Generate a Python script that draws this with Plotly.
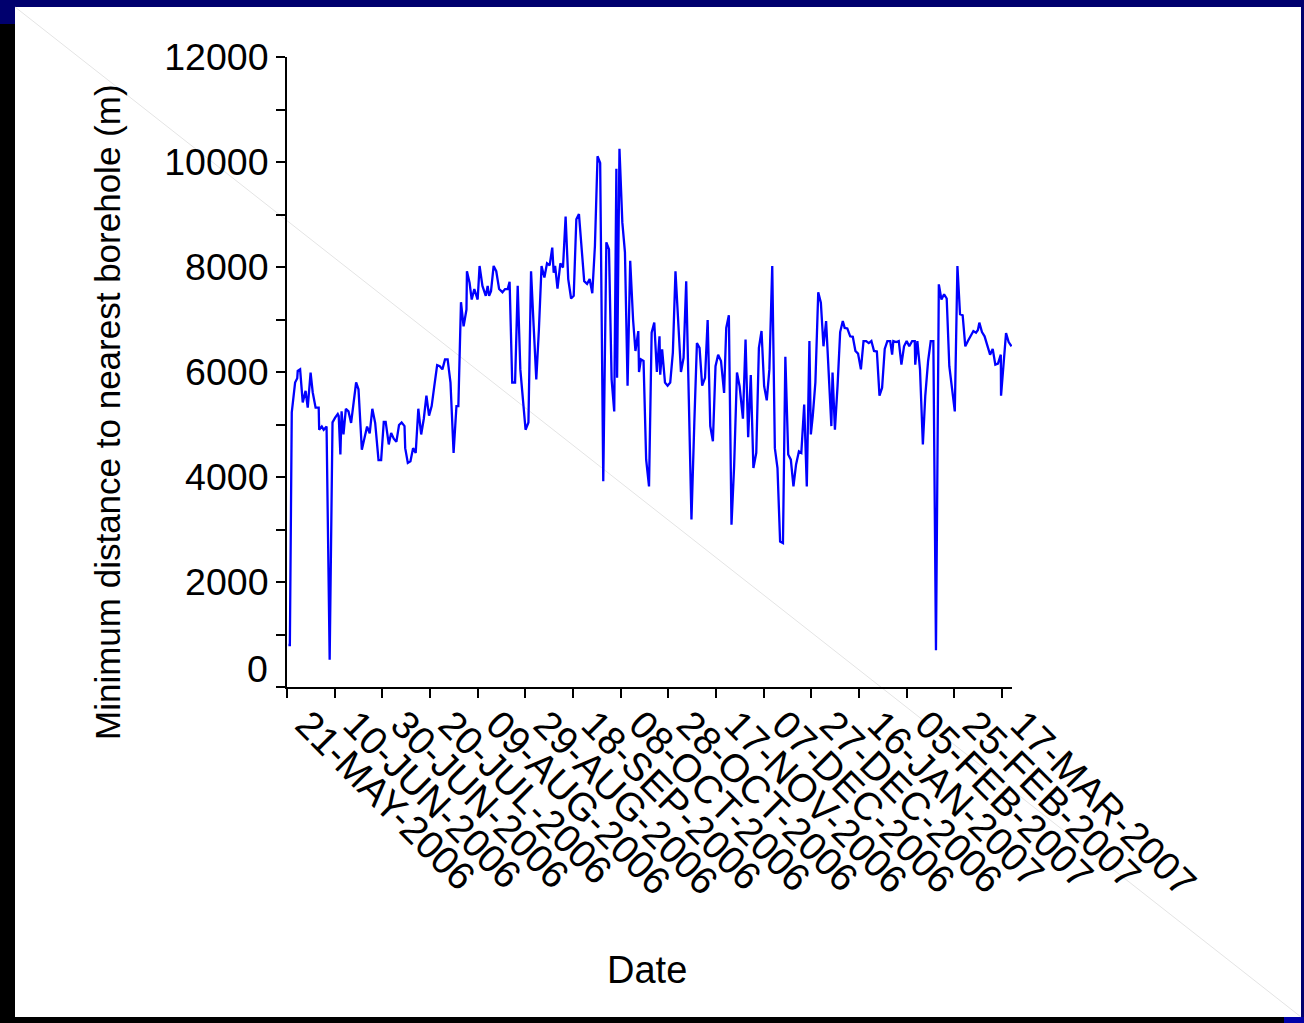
import pandas as pd
import plotly.graph_objects as go

# ---------------- data ----------------
start_date = "2006-05-21"

# days after 21-MAY-2006 for each observation
day_offset = [
    0.6, 1.2, 2.0, 3.4, 4.3, 4.5, 5.5, 6.6, 7.8, 8.7, 9.9, 10.8, 12.0, 13.3, 13.5, 14.6, 15.4, 16.6,
    17.9, 19.1, 20.2, 21.3, 21.7, 22.4, 22.9, 23.7, 24.7, 25.8, 26.9, 29.0, 30.0, 31.4, 33.6, 34.7,
    35.8, 37.0, 38.4, 39.5, 40.6, 41.4, 42.7, 43.7, 44.8, 45.9, 47.0, 48.1, 49.3, 49.6, 50.7, 51.8,
    52.9, 54.0, 55.1, 56.3, 57.4, 58.5, 59.6, 60.7, 61.8, 63.0, 64.1, 65.2, 66.3, 67.4, 68.6, 69.9,
    71.1, 71.9, 73.0, 74.1, 75.3, 75.5,
    76.6, 77.5, 78.6, 80.0, 80.8, 82.0, 83.4, 84.2, 84.8, 85.6, 86.7, 87.8, 89.0, 90.4, 91.5, 92.6,
    93.4, 94.5, 95.7, 96.8, 97.9, 99.0, 100.1, 101.3, 102.4, 103.5, 104.6, 105.7, 106.8, 108.0,
    109.1, 110.2, 111.3, 111.9, 112.5, 113.5, 114.7, 115.8, 116.9, 118.0, 119.2, 120.3, 121.4,
    122.5, 123.6, 124.7, 125.9, 127.0, 128.1, 129.2, 130.3, 131.4, 132.7, 134.0, 135.1, 136.2,
    137.3, 138.2, 138.5, 139.5, 140.7, 141.8, 142.9, 144.0, 145.2, 146.2, 147.4, 147.7, 148.5,
    149.6, 150.7, 151.9,
    153.0, 154.1, 155.2, 156.3, 156.6, 157.4, 158.6, 159.7, 160.8, 161.9, 163.0, 164.2, 165.3,
    166.4, 167.5, 168.6, 169.7, 170.9, 172.0, 173.1, 174.2, 175.4, 176.5, 177.6, 178.7, 179.8,
    180.9, 182.1, 183.4, 184.3, 185.4, 186.5, 187.6, 188.8, 189.9, 191.3, 192.4, 193.5, 194.6,
    195.7, 196.9, 198.0, 199.1, 200.2, 201.3, 202.4, 203.6, 204.7, 205.8, 206.9, 208.1, 209.1,
    210.3, 211.4, 212.5, 213.6, 214.8, 215.8, 217.0, 218.1, 219.2, 219.8, 220.6, 221.7, 222.9,
    224.0, 225.1, 226.2, 227.3, 228.4,
    228.9, 229.9, 231.0, 232.1, 233.2, 234.0, 235.1, 236.3, 237.4, 238.5, 239.6, 240.8, 241.9,
    243.0, 244.1, 245.2, 246.3, 247.5, 248.6, 249.7, 250.8, 251.9, 253.1, 253.9, 254.4, 255.6,
    256.7, 257.8, 258.9, 260.0, 261.1, 262.3, 263.4, 263.6, 264.5, 265.6, 266.8, 267.8, 269.0,
    270.1, 271.2, 272.3, 273.5, 274.6, 275.7, 276.8, 277.9, 279.0, 280.2, 281.3, 282.4, 283.5,
    284.6, 285.7, 286.9, 288.0, 289.1, 289.9, 290.5, 291.6, 292.7, 293.8, 295.0, 296.1, 297.2,
    298.3, 299.5, 299.6, 300.6, 301.7, 302.8, 304.0,
]

# minimum distance to nearest borehole (m)
min_distance_m = [
    800, 800, 5230, 5800, 5880, 6020, 6050, 5420, 5640, 5320, 5990, 5610, 5320, 5320, 4900, 4960, 4900, 4960,
    520, 5040, 5130, 5200, 5160, 4430, 5250, 4810, 5300, 5250, 5030, 5800, 5670, 4520, 4960, 4830,
    5300, 5030, 4320, 4320, 5050, 5050, 4620, 4840, 4730, 4670, 4990, 5040, 4970, 4550, 4270, 4300,
    4550, 4460, 5300, 4810, 5110, 5550, 5170, 5350, 5730, 6130, 6110, 6050, 6240, 6240, 5800, 4460,
    5350, 5350, 7330, 6870, 7190, 7920,
    7700, 7380, 7580, 7380, 8020, 7640, 7450, 7640, 7450, 7540, 8020, 7920, 7580, 7520, 7580, 7580,
    7720, 5800, 5800, 7640, 6050, 5410, 4900, 5040, 7920, 6870, 5860, 6810, 8020, 7800,
    8070, 8030, 8370, 7890, 8020, 7590, 8070, 7990, 8960, 7770, 7400, 7450, 8910,
    9010, 8280, 7730, 7680, 7770, 7500, 8400, 10110, 9980, 3920, 8470, 8340, 5860,
    5250, 9870, 5890, 10250, 8850, 8280, 5740, 8120, 7000, 6400, 6780, 6000, 6240,
    6210, 4330, 3820,
    6750, 6940, 6000, 6680, 5950, 6430, 5800, 5740, 5800, 6370, 7920, 7000, 6000,
    6270, 7730, 5480, 3190, 5030, 6550, 6460, 5740, 5890, 6990, 4970, 4680, 6110,
    6330, 6210, 5600, 6840, 7080, 3090, 4200, 5990, 5730, 5110, 6620, 4760, 5940,
    4170, 4460, 6460, 6780, 5730, 5460, 6050, 8020, 4550, 4170, 2770, 2740, 6290,
    4430, 4330, 3820, 4240, 4490, 4460, 5380, 3820, 6590, 4810, 5160, 5800, 7520,
    7320, 6490, 6970, 5990, 4970,
    5990, 4900, 5730, 6760, 6970, 6840, 6830, 6680, 6670, 6400, 6350, 6050, 6590,
    6590, 6550, 6590, 6400, 6390, 5550, 5700, 6440, 6590, 6590, 6330, 6590, 6570,
    6590, 6140, 6490, 6590, 6490, 6590, 6590, 6140, 6590, 6050, 4620, 5540, 6210,
    6590, 6590, 700, 7670, 7380, 7480, 7400, 6110, 5730, 5250, 8020, 7100, 7080,
    6490, 6590, 6680, 6780, 6750, 6800, 6940, 6760, 6680, 6530, 6330, 6440, 6140,
    6160, 6330, 5550, 6110, 6740, 6570, 6490,
]

x_tick_dates = [
    "2006-05-21", "2006-06-10", "2006-06-30", "2006-07-20", "2006-08-09", "2006-08-29",
    "2006-09-18", "2006-10-08", "2006-10-28", "2006-11-17", "2006-12-07", "2006-12-27",
    "2007-01-16", "2007-02-05", "2007-02-25", "2007-03-17",
]
x_tick_labels = [
    "21-MAY-2006", "10-JUN-2006", "30-JUN-2006", "20-JUL-2006", "09-AUG-2006", "29-AUG-2006",
    "18-SEP-2006", "08-OCT-2006", "28-OCT-2006", "17-NOV-2006", "07-DEC-2006", "27-DEC-2006",
    "16-JAN-2007", "05-FEB-2007", "25-FEB-2007", "17-MAR-2007",
]
y_tick_vals = [0, 2000, 4000, 6000, 8000, 10000, 12000]
y_tick_labels = ["0", "2000", "4000", "6000", "8000", "10000", "12000"]

x_title = "Date"
y_title = "Minimum distance to nearest borehole (m)"

# ---------------- figure ----------------
start = pd.Timestamp(start_date)
dates = start + pd.to_timedelta(day_offset, unit="D")

W, H = 1304, 1023
L, R, T, B = 287, 1012, 57, 687


def px_x(p):
    return (p - L) / (R - L)


def px_y(p):
    return (B - p) / (B - T)


FONT = "Liberation Sans, Arial, sans-serif"
NAVY = "#00006E"

fig = go.Figure()
fig.add_trace(go.Scatter(
    x=dates, y=min_distance_m, mode="lines",
    line=dict(color="#0000FF", width=2.3),
    showlegend=False, hoverinfo="skip",
))

shapes = []


def rect(x0, y0, x1, y1, color, layer="below"):
    shapes.append(dict(type="rect", xref="paper", yref="paper",
                       x0=px_x(x0), x1=px_x(x1), y0=px_y(y0), y1=px_y(y1),
                       fillcolor=color, line=dict(width=0), layer=layer))


# slide frame
rect(0, 0, W, 7, NAVY)
rect(0, 0, 15, 24, NAVY)
rect(1301, 0, W, 1017, NAVY)
rect(1284, 1017, W, H, "#0000A8")
rect(15, 7, 1301, 1017, "white")
shapes.append(dict(type="line", xref="paper", yref="paper",
                   x0=px_x(15), y0=px_y(7), x1=px_x(1301), y1=px_y(1017),
                   line=dict(color="#E4E4E4", width=1), layer="below"))

annotations = [
    dict(text=y_title, xref="paper", yref="paper", x=px_x(107), y=px_y(412),
         textangle=-90, showarrow=False, xanchor="center", yanchor="middle",
         font=dict(family=FONT, size=35, color="black")),
    dict(text=x_title, xref="paper", yref="paper", x=px_x(647), y=px_y(970),
         showarrow=False, xanchor="center", yanchor="middle",
         font=dict(family=FONT, size=38, color="black")),
    # the "0" label sits raised above its tick in the original
    dict(text=y_tick_labels[0], xref="paper", yref="y", x=px_x(270), y=y_tick_vals[0],
         yshift=18, showarrow=False, xanchor="right", yanchor="middle",
         font=dict(family=FONT, size=37.5, color="black")),
]

fig.update_layout(
    width=W, height=H,
    margin=dict(l=L, r=W - R, t=T, b=H - B, pad=0),
    paper_bgcolor="black",
    plot_bgcolor="rgba(0,0,0,0)",
    shapes=shapes,
    annotations=annotations,
    font=dict(family=FONT, size=37.5, color="black"),
    xaxis=dict(
        type="date",
        range=[start, start + pd.Timedelta(days=304.2)],
        tickvals=x_tick_dates, ticktext=x_tick_labels,
        tickangle=45, ticks="outside", ticklen=9, tickwidth=2, tickcolor="black",
        showline=True, linewidth=2, linecolor="black",
        showgrid=False, zeroline=False,
        tickfont=dict(family=FONT, size=39, color="black"),
        ticklabelshift=20, ticklabelstandoff=-12,
    ),
    yaxis=dict(
        range=[0, 12000],
        tickvals=y_tick_vals, ticktext=[""] + y_tick_labels[1:],
        ticks="outside", ticklen=9, tickwidth=2, tickcolor="black",
        minor=dict(dtick=1000, ticks="outside", ticklen=9, tickwidth=2, tickcolor="black"),
        showline=True, linewidth=2, linecolor="black",
        showgrid=False, zeroline=False,
        tickfont=dict(family=FONT, size=37.5, color="black"),
        ticklabelstandoff=0,
    ),
)

fig.write_html(
    "out.html",
    config={"displayModeBar": False, "staticPlot": True},
    post_script="document.body.style.margin='0px';document.body.style.overflow='hidden';",
)
